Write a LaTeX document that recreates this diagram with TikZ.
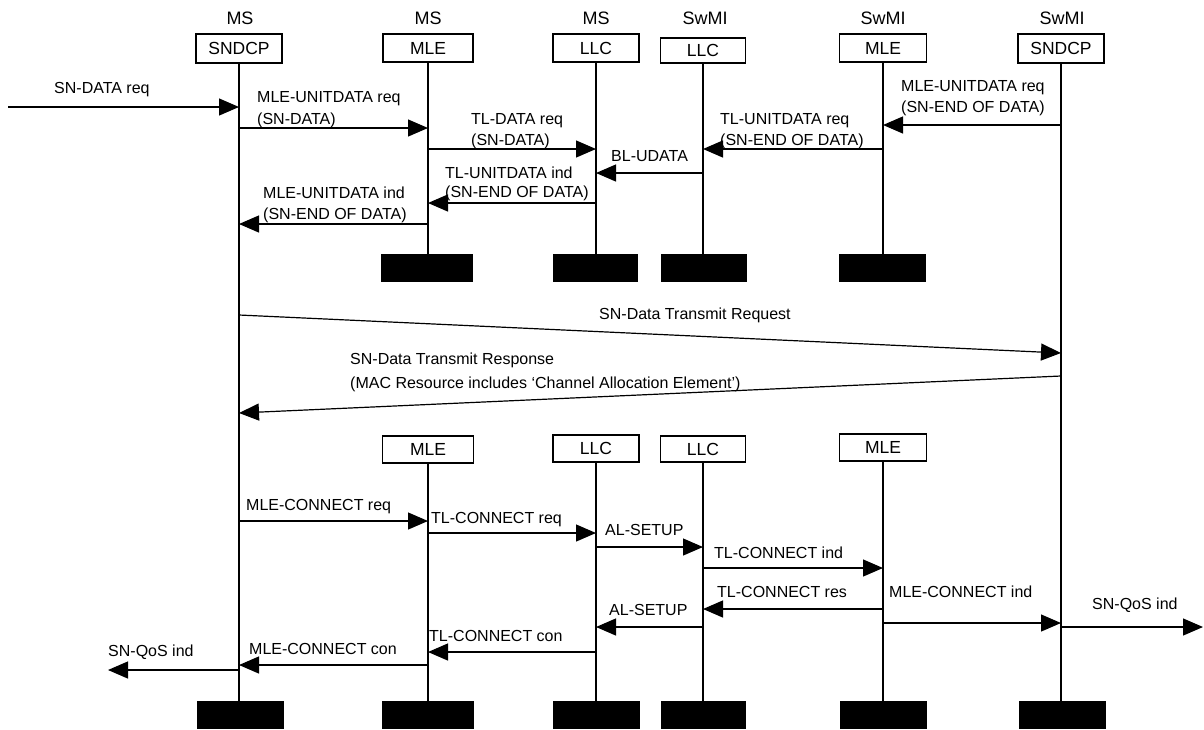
\documentclass[tikz,border=0pt]{standalone}
\usepackage{fontspec}
\setmainfont{Liberation Sans}
\usetikzlibrary{arrows.meta}
\begin{document}
\begin{tikzpicture}[x=1pt,y=-1pt,
  lay/.style={draw, line width=1.2pt, inner sep=0pt, font=\fontsize{17.5}{20}\selectfont},
  blk/.style={fill=black, draw=none, inner sep=0pt},
  hdr/.style={inner sep=0pt, font=\fontsize{18}{20}\selectfont},
  lbl/.style={inner sep=0pt, anchor=base west, font=\fontsize{16}{19}\selectfont},
  msg/.style={line width=1.2pt, -{Triangle[length=20pt,width=17pt]}},
  life/.style={line width=1.2pt}]
\useasboundingbox (0,0) rectangle (1204,729);

% headers
\node[hdr] (hA) at (240,18.5) {MS};
\node[hdr] (hB) at (428,18.5) {MS};
\node[hdr] (hC) at (596,18.5) {MS};
\node[hdr] (hD) at (705,18.5) {SwMI};
\node[hdr] (hE) at (883,18.5) {SwMI};
\node[hdr] (hF) at (1062,18.5) {SwMI};

% top boxes
\node[lay,minimum width=86pt,minimum height=29pt] (sA) at (239,48.5) {SNDCP};
\node[lay,minimum width=90pt,minimum height=28pt] (mA) at (428,48) {MLE};
\node[lay,minimum width=86pt,minimum height=28pt] (lA) at (596,48) {LLC};
\node[lay,minimum width=85pt,minimum height=25pt] (lB) at (703,50.5) {LLC};
\node[lay,minimum width=87pt,minimum height=28pt] (mB) at (883,48) {MLE};
\node[lay,minimum width=86pt,minimum height=29pt] (sB) at (1061,48.5) {SNDCP};

% top end blocks
\node[blk,minimum width=92pt,minimum height=28pt] (tmA) at (427,268) {};
\node[blk,minimum width=85pt,minimum height=28pt] (tlA) at (595.5,268) {};
\node[blk,minimum width=86pt,minimum height=28pt] (tlB) at (704,268) {};
\node[blk,minimum width=87pt,minimum height=28pt] (tmB) at (882.5,268) {};

% bottom boxes
\node[lay,minimum width=91pt,minimum height=27pt] (mC) at (428,449.5) {MLE};
\node[lay,minimum width=86pt,minimum height=27pt] (lC) at (596,448.5) {LLC};
\node[lay,minimum width=85pt,minimum height=26pt] (lD) at (703,449) {LLC};
\node[lay,minimum width=87pt,minimum height=27pt] (mD) at (883,447.5) {MLE};

% bottom end blocks
\node[blk,minimum width=87pt,minimum height=28pt] (bsA) at (240.5,715) {};
\node[blk,minimum width=92pt,minimum height=28pt] (bmC) at (428,715) {};
\node[blk,minimum width=87pt,minimum height=28pt] (blC) at (596.5,715) {};
\node[blk,minimum width=85pt,minimum height=28pt] (blD) at (703.5,715) {};
\node[blk,minimum width=87pt,minimum height=28pt] (bmD) at (883.5,715) {};
\node[blk,minimum width=87pt,minimum height=28pt] (bsB) at (1062.5,715) {};

% lifelines
\draw[life] (sA.south) -- (sA.south |- bsA.north);
\draw[life] (sB.south) -- (sB.south |- bsB.north);
\draw[life] (mA.south) -- (mA.south |- tmA.north);
\draw[life] (lA.south) -- (lA.south |- tlA.north);
\draw[life] (lB.south) -- (lB.south |- tlB.north);
\draw[life] (mB.south) -- (mB.south |- tmB.north);
\draw[life] (mC.south) -- (mC.south |- bmC.north);
\draw[life] (lC.south) -- (lC.south |- blC.north);
\draw[life] (lD.south) -- (lD.south |- blD.north);
\draw[life] (mD.south) -- (mD.south |- bmD.north);

% free ends
\coordinate (inA) at (8,107);
\coordinate (outR) at (1203,627);
\coordinate (outL) at (108,670);

% top section messages
\draw[msg] (inA) -- (sA |- inA);
\node[lbl] (t1) at (54,93) {SN-DATA req};

\draw[msg] (sA |- 0,128) -- (mA |- 0,128);
\node[lbl] (t2a) at (257,102) {MLE-UNITDATA req};
\node[lbl] (t2b) at (257,124) {(SN-DATA)};

\draw[msg] (mA |- 0,149) -- (lA |- 0,149);
\node[lbl] (t3a) at (471,124) {TL-DATA req};
\node[lbl] (t3b) at (471,145) {(SN-DATA)};

\draw[msg] (sB |- 0,125) -- (mB |- 0,125);
\node[lbl] (t4a) at (901,91) {MLE-UNITDATA req};
\node[lbl] (t4b) at (901,112) {(SN-END OF DATA)};

\draw[msg] (mB |- 0,149) -- (lB |- 0,149);
\node[lbl] (t5a) at (720,124) {TL-UNITDATA req};
\node[lbl] (t5b) at (720,145) {(SN-END OF DATA)};

\draw[msg] (lB |- 0,173) -- (lA |- 0,173);
\node[lbl] (t6) at (611,161) {BL-UDATA};

\draw[msg] (lA |- 0,203) -- (mA |- 0,203);
\node[lbl] (t7a) at (445,178) {TL-UNITDATA ind};
\node[lbl] (t7b) at (445,197) {(SN-END OF DATA)};

\draw[msg] (mA |- 0,224) -- (sA |- 0,224);
\node[lbl] (t8a) at (263,198) {MLE-UNITDATA ind};
\node[lbl] (t8b) at (263,219) {(SN-END OF DATA)};

% middle section
\draw[msg] (sA |- 0,315) -- (sB |- 0,353);
\node[lbl] (t9) at (599,319) {SN-Data Transmit Request};

\draw[msg] (sB |- 0,376) -- (sA |- 0,413);
\node[lbl] (t10a) at (350,364) {SN-Data Transmit Response};
\node[lbl] (t10b) at (350,388) {(MAC Resource includes ‘Channel Allocation Element’)};

% bottom section messages
\draw[msg] (sA |- 0,521) -- (mC |- 0,521);
\node[lbl] (u1) at (246,510) {MLE-CONNECT req};

\draw[msg] (mC |- 0,533) -- (lC |- 0,533);
\node[lbl] (u2) at (431,523) {TL-CONNECT req};

\draw[msg] (lC |- 0,547) -- (lD |- 0,547);
\node[lbl] (u3) at (605,535) {AL-SETUP};

\draw[msg] (lD |- 0,568) -- (mD |- 0,568);
\node[lbl] (u4) at (714,558) {TL-CONNECT ind};

\draw[msg] (mD |- 0,609) -- (lD |- 0,609);
\node[lbl] (u5) at (717,597) {TL-CONNECT res};

\draw[msg] (mD |- 0,623) -- (sB |- 0,623);
\node[lbl] (u6) at (889,597) {MLE-CONNECT ind};

\draw[msg] (sB |- outR) -- (outR);
\node[lbl] (u7) at (1092,609) {SN-QoS ind};

\draw[msg] (lD |- 0,627) -- (lC |- 0,627);
\node[lbl] (u8) at (609,615) {AL-SETUP};

\draw[msg] (lC |- 0,652) -- (mC |- 0,652);
\node[lbl] (u9) at (429,641) {TL-CONNECT con};

\draw[msg] (mC |- 0,665) -- (sA |- 0,665);
\node[lbl] (u10) at (249,654) {MLE-CONNECT con};

\draw[msg] (sA |- outL) -- (outL);
\node[lbl] (u11) at (108,656) {SN-QoS ind};
\end{tikzpicture}
\end{document}
